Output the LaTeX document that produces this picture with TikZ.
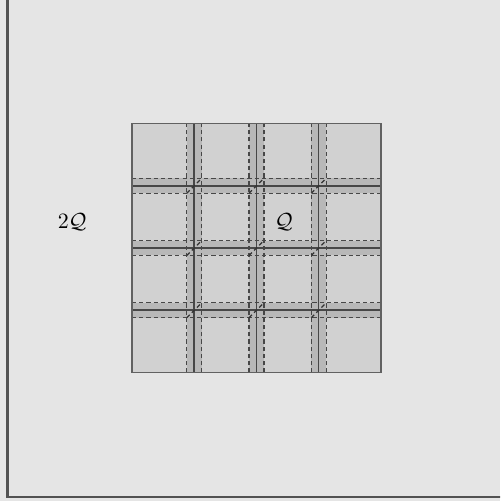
\documentclass[tikz,border=0pt]{standalone}
\usepackage{amsmath, amssymb}
\usepackage{tikz}

\begin{document}
\begin{tikzpicture}[
    band/.style={fill=black!28},
    gridline/.style={black!72, line width=0.7pt},
    cutline/.style={black!72, line width=0.55pt, dash pattern=on 1.9pt off 1.4pt},
  ]

  % Frame
  \fill[black!10] (-4.12,-4.064) rectangle (3.912,3.984);
  \useasboundingbox (-4.12,-4.064) rectangle (3.912,3.984);
  \clip (-4.12,-4.064) rectangle (3.912,3.984);

  % Big cube 2Q (its top and right sides lie outside the frame)
  \draw[draw=black!68, line width=1pt] (-4,5) -- (-4,-4) -- (5,-4);

  % Cube Q
  \fill[black!18] (-2,-2) rectangle (2,2);

  % Overlap strips around the grid lines
  \foreach \t in {-1,0,1} {
    \fill[band] (\t-0.12,-2) rectangle (\t+0.12,2);
    \fill[band] (-2,\t-0.12) rectangle (2,\t+0.12);
  }

  % Grid of subcubes
  \foreach \t in {-1,0,1} {
    \draw[gridline] (\t,-2) -- (\t,2);
    \draw[gridline] (-2,\t) -- (2,\t);
  }

  % Edges of the enlarged subcubes
  \foreach \t in {-1,0,1} {
    \foreach \s in {-0.12,0.12} {
      \draw[cutline] (\t+\s,-2) -- (\t+\s,2);
      \draw[cutline] (-2,\t+\s) -- (2,\t+\s);
    }
  }

  % Diagonals in the crossings
  \foreach \x in {-1,0,1} {
    \foreach \y in {-1,0,1} {
      \draw[cutline, black!80] (\x-0.12,\y-0.12) -- (\x+0.12,\y+0.12);
    }
  }

  % Outline of Q
  \draw[black!62, line width=0.6pt] (-2,-2) rectangle (2,2);

  % Labels
  \node at (-2.96,0.42) {$2\mathcal{Q}$};
  \node at ( 0.44,0.42) {$\mathcal{Q}$};

\end{tikzpicture}
\end{document}
